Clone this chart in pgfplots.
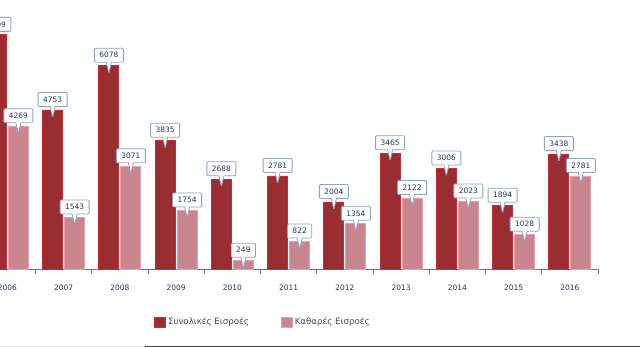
\documentclass[border=0pt]{standalone}
\usepackage{pgfplots}
\pgfplotsset{compat=1.18}
\usepackage{pgfplotstable}
\usepackage{fontspec}
\setmainfont{DejaVu Sans}
\usetikzlibrary{shapes.callouts}
\definecolor{dkA}{HTML}{CC2A2E}
\definecolor{dkB}{HTML}{9A2D31}
\definecolor{pkA}{HTML}{E3A0AA}
\definecolor{pkB}{HTML}{C9868F}
\definecolor{navy}{HTML}{1F3560}
\definecolor{lblborder}{HTML}{8BA5BF}
\definecolor{axblue}{HTML}{4E7FB0}
\definecolor{gridgray}{HTML}{D2D2D2}
\pgfplotstableread{
x total net
0 6999 4269
1 4753 1543
2 6078 3071
3 3835 1754
4 2688 249
5 2781 822
6 2004 1354
7 3465 2122
8 3006 2023
9 1894 1028
10 3438 2781
}\data
\begin{document}
\begin{tikzpicture}
\useasboundingbox (0,0) rectangle (640bp,347bp);
\clip (0,0) rectangle (640bp,347bp);
\fill[white] (0,0) rectangle (640bp,347bp);
\fill[black!15] (0,0) rectangle (145bp,1.5bp);
\fill[black!75] (145bp,0) rectangle (640bp,1.5bp);
\begin{axis}[
  at={(-20.75bp,78bp)}, anchor=south west,
  scale only axis, width=618.75bp, height=267.7bp,
  xmin=-0.5, xmax=10.5, ymin=0, ymax=8000,
  ybar=2bp, bar width=20bp,
  clip=false,
  axis x line*=bottom, axis y line=none,
  x axis line style={draw=axblue, line width=0.9bp, -},
  xtick={0,...,10},
  xticklabels={2006,2007,2008,2009,2010,2011,2012,2013,2014,2015,2016},
  major x tick style={draw=none},
  minor xtick={-0.5,0.5,...,10.5},
  minor tick length=5bp,
  minor x tick style={draw=axblue, line width=0.9bp},
  tick align=outside,
  xticklabel style={font=\fontsize{7.5}{9}\selectfont, text=navy, yshift=-8bp},
  ytick={1000,2000,...,8000},
  ymajorgrids,
  y grid style={draw=gridgray, line width=1bp},
  /pgf/number format/.cd, 1000 sep={}, assume math mode=true, /pgfplots/.cd,
  nodes near coords,
  every node near coord/.append style={
    rectangle callout, draw=lblborder, fill=white, rounded corners=1bp,
    callout relative pointer={(0bp,-11bp)}, callout pointer width=5bp,
    font=\fontsize{7.5}{9}\selectfont, text=navy,
    inner xsep=5bp, inner ysep=3bp, minimum height=14bp,
    anchor=south, yshift=3bp},
  legend columns=2,
  legend style={at={(0.4586,-0.198)}, anchor=center, draw=none, fill=none,
    font=\fontsize{8.7}{10}\selectfont, text=black!72,
    /tikz/every even column/.append style={column sep=30bp}},
  legend image code/.code={\path[#1] (0bp,-5bp) rectangle (11bp,5bp);},
]
\addplot[draw=dkA, line width=0.8bp, fill=dkB]
  table[x=x, y=total]{\data};
\addplot[draw=pkA, line width=0.8bp, fill=pkB]
  table[x=x, y=net]{\data};
\legend{Συνολικές Εισροές, Καθαρές Εισροές}
\end{axis}
\end{tikzpicture}
\end{document}
